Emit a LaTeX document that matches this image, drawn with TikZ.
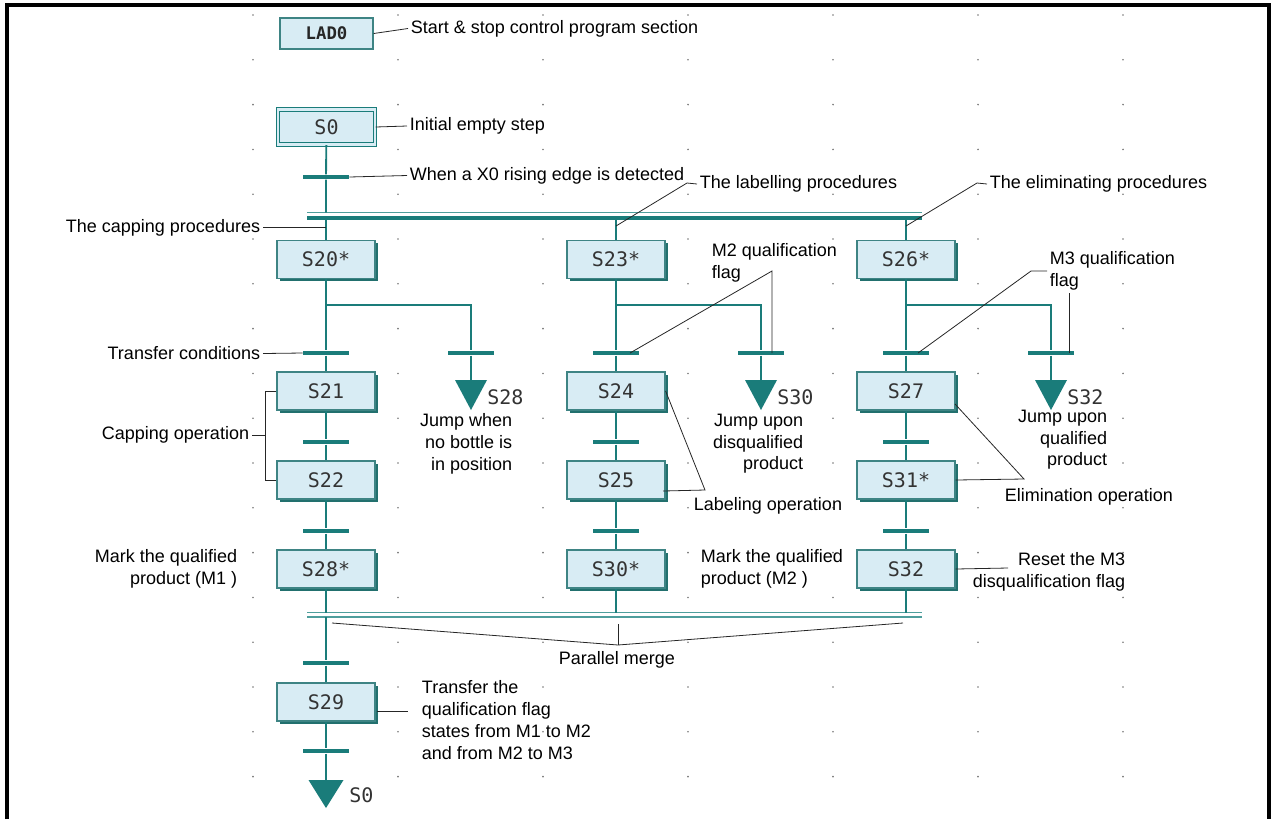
\documentclass[tikz,border=0pt]{standalone}
\usepackage{fontspec}
\setmainfont{Liberation Sans}
\newfontfamily\stepfont{DejaVu Sans Mono}
\usetikzlibrary{shadows}

\definecolor{sfcteal}{RGB}{26,124,122}
\definecolor{sfcfill}{RGB}{216,236,244}
\definecolor{sfcedge}{RGB}{62,132,132}
\definecolor{sfcshade}{RGB}{34,112,110}
\definecolor{sfcmerge}{RGB}{78,158,156}
\definecolor{dotgray}{RGB}{120,120,120}

\tikzset{
  stepbox/.style={draw=sfcedge, line width=0.9pt, fill=sfcfill, minimum width=73.5pt, minimum height=28.5pt, inner sep=0pt,
    font=\stepfont\fontsize{15}{15}\selectfont, text=black!80,
    drop shadow={shadow xshift=2.2pt, shadow yshift=-2.2pt, fill=sfcshade, opacity=1}},
  initbox/.style={draw=sfcteal, double=sfcfill, double distance=2pt, line width=0.8pt, fill=sfcfill,
    minimum width=72.75pt, minimum height=26.25pt, inner sep=0pt, font=\stepfont\fontsize{15}{15}\selectfont, text=black!80},
  headbox/.style={draw=sfcedge, line width=1pt, fill=sfcfill, minimum width=69.75pt, minimum height=23.25pt, inner sep=0pt,
    font=\stepfont\bfseries\fontsize{13}{13}\selectfont, text=black!85},
  trans/.style={fill=sfcteal, minimum width=34.5pt, minimum height=3.4pt, inner sep=0pt},
  link/.style={draw=sfcteal, line width=1.4pt},
  lead/.style={draw=black!85, line width=0.6pt},
  note/.style={font=\fontsize{13.5}{16.3}\selectfont, inner sep=2pt, text=black},
  jumplbl/.style={font=\stepfont\fontsize{15}{15}\selectfont, text=black!80, inner sep=0pt}
}

\begin{document}
\begin{tikzpicture}[x=0.75pt,y=0.75pt,yscale=-1,xscale=1]
\useasboundingbox (0,0) rectangle (1274,819);

%Frame
\draw[line width=2.3pt] (7,819) -- (7,5) -- (1269,5) -- (1269,819);

%Grid dots
\foreach \i in {0,...,6}
  \foreach \j in {0,...,18}
    \fill[dotgray] (253+145*\i,15+44.8*\j) circle (0.9);

%Steps
\node[headbox] (LAD0) at (326.5,33.5) {LAD0};
\node[initbox] (S0) at (326.5,127) {S0};

\node[stepbox] (S20) at (326,259.5) {S20*};
\node[stepbox] (S21) at (326,391) {S21};
\node[stepbox] (S22) at (326,480) {S22};
\node[stepbox] (S28) at (326,569) {S28*};
\node[stepbox] (S29) at (326,702) {S29};

\node[stepbox] (S23) at (616,259.5) {S23*};
\node[stepbox] (S24) at (616,391) {S24};
\node[stepbox] (S25) at (616,480) {S25};
\node[stepbox] (S30) at (616,569) {S30*};

\node[stepbox] (S26) at (906,259.5) {S26*};
\node[stepbox] (S27) at (906,391) {S27};
\node[stepbox] (S31) at (906,480) {S31*};
\node[stepbox] (S32) at (906,569) {S32};

%Transitions
\node[trans] (t0) at (326,177) {};
\node[trans] (t1) at (326,353) {};
\node[trans] (t2) at (326,442) {};
\node[trans] (t3) at (326,531) {};
\node[trans] (t4) at (326,663) {};
\node[trans] (t5) at (326,751) {};
\node[trans] (u1) at (616,353) {};
\node[trans] (u2) at (616,442) {};
\node[trans] (u3) at (616,531) {};
\node[trans] (v1) at (906,353) {};
\node[trans] (v2) at (906,442) {};
\node[trans] (v3) at (906,531) {};
\node[trans] (jb1) at (471,353) {};
\node[trans] (jb2) at (761,353) {};
\node[trans] (jb3) at (1051,353) {};

%Branch points
\coordinate (fork0) at (326,212.5);
\coordinate (fk1) at (326,217.5);
\coordinate (fk2) at (616,217.5);
\coordinate (fk3) at (906,217.5);
\coordinate (mg1) at (326,612.5);
\coordinate (mg2) at (616,612.5);
\coordinate (mg3) at (906,612.5);
\coordinate (mgout) at (326,617);
\coordinate (br1) at (326,305);
\coordinate (br2) at (616,305);
\coordinate (br3) at (906,305);
\coordinate (br1j) at (471,305);
\coordinate (br2j) at (761,305);
\coordinate (br3j) at (1051,305);
\coordinate (jt0) at (326,780);
\coordinate (jt1) at (471,380);
\coordinate (jt2) at (761,380);
\coordinate (jt3) at (1051,380);

%Parallel divergence and merge
\draw[draw=sfcmerge, line width=1.1pt] (307,212.5) -- (922,212.5);
\draw[draw=sfcteal, line width=3pt] (307,217.5) -- (922,217.5);
\draw[draw=sfcmerge, line width=1.1pt] (307,612.5) -- (922,612.5);
\draw[draw=sfcmerge, line width=1.1pt] (307,617) -- (922,617);

%Links
\draw[link] (S0) -- (t0) -- (fork0);
\draw[link] (fk1) -- (S20) -- (t1) -- (S21) -- (t2) -- (S22) -- (t3) -- (S28) -- (mg1);
\draw[link] (fk2) -- (S23) -- (u1) -- (S24) -- (u2) -- (S25) -- (u3) -- (S30) -- (mg2);
\draw[link] (fk3) -- (S26) -- (v1) -- (S27) -- (v2) -- (S31) -- (v3) -- (S32) -- (mg3);
\draw[link] (mgout) -- (t4) -- (S29) -- (t5) -- (jt0);
\draw[link] (br1) -- (br1j) -- (jb1) -- (jt1);
\draw[link] (br2) -- (br2j) -- (jb2) -- (jt2);
\draw[link] (br3) -- (br3j) -- (jb3) -- (jt3);

%Jumps
\fill[sfcteal] (jt0) ++(-17.5,0) -- ++(35,0) -- ++(-17.5,28) -- cycle;
\fill[sfcteal] (jt1) ++(-16,0) -- ++(32,0) -- ++(-16,30) -- cycle;
\fill[sfcteal] (jt2) ++(-16,0) -- ++(32,0) -- ++(-16,30) -- cycle;
\fill[sfcteal] (jt3) ++(-16,0) -- ++(32,0) -- ++(-16,30) -- cycle;
\node[jumplbl, anchor=west] (toS0) at (349,795) {S0};
\node[jumplbl, anchor=west] (toS28) at (487,397) {S28};
\node[jumplbl, anchor=west] (toS30) at (777,397) {S30};
\node[jumplbl, anchor=west] (toS32) at (1067,397) {S32};

% Text Node
\node[note, anchor=west] (nLad) at (408,28.5) {Start \& stop control program section};
\node[note, anchor=west] (nInit) at (407,126) {Initial empty step};
\node[note, anchor=west] (nEdge) at (407,175.5) {When a X0 rising edge is detected};
\node[note, anchor=east] (nCap) at (263,227.5) {The capping procedures};
\node[note, anchor=west] (nLab) at (697,184) {The labelling procedures};
\node[note, anchor=west] (nElim) at (987,184) {The eliminating procedures};
\node[note, anchor=north west, align=left] (nM2) at (709,241) {M2 qualification\\flag};
\node[note, anchor=north west, align=left] (nM3) at (1047,249) {M3 qualification\\flag};
\node[note, anchor=east] (nTrans) at (263,353.5) {Transfer conditions};
\node[note, anchor=east] (nCapOp) at (252,435) {Capping operation};
\node[note, anchor=north east, align=right] (nJ28) at (515,411) {Jump when\\no bottle is\\in position};
\node[note, anchor=north east, align=right] (nJ30) at (806,411) {Jump upon\\disqualified\\product};
\node[note, anchor=north east, align=right] (nJ32) at (1110,407) {Jump upon\\qualified\\product};
\node[note, anchor=west] (nLabOp) at (691,505.5) {Labeling operation};
\node[note, anchor=west] (nElimOp) at (1002,497) {Elimination operation};
\node[note, anchor=north east, align=right] (nMark1) at (240,547) {Mark the qualified\\product (M1 )};
\node[note, anchor=north west, align=left] (nMark2) at (698,547) {Mark the qualified\\product (M2 )};
\node[note, anchor=north east, align=right] (nReset) at (1128,550) {Reset the M3\\disqualification flag};
\node[note, anchor=north] (nPar) at (617,649) {Parallel merge};
\node[note, anchor=north west, align=left] (nXfer) at (419,678) {Transfer the\\qualification flag\\states from M1 to M2\\and from M2 to M3};

%Leader lines
\coordinate (capTap) at (326,227.5);
\coordinate (labTap) at (616,226);
\coordinate (labBend) at (687,183);
\coordinate (elimTap) at (906,226);
\coordinate (elimBend) at (977,183);
\coordinate (m2a) at (630,353);
\coordinate (m2b) at (772,271);
\coordinate (m2c) at (772,353);
\coordinate (m3a) at (918,353);
\coordinate (m3b) at (1031,271);
\coordinate (m3c) at (1047,271);
\coordinate (m3d) at (1069,293);
\coordinate (m3e) at (1069,353);
\coordinate (labMeet) at (705,490);
\coordinate (labS25) at (663,491);
\coordinate (elimMeet) at (1024,479);
\coordinate (elimS27) at (955,404);
\coordinate (resetEnd) at (1008,568);
\coordinate (parTip) at (618,645);
\coordinate (parMid) at (618,624);
\coordinate (parLeft) at (332,623);
\coordinate (parRight) at (903,623);
\coordinate (xferS29) at (377,711);
\coordinate (xferEnd) at (408,711);

\draw[lead] (LAD0.east) -- (nLad.west);
\draw[lead] (S0.east) -- (nInit.west);
\draw[lead] (t0.east) -- (nEdge.west);
\draw[lead] (nCap.east) -- (capTap);
\draw[lead] (labTap) -- (labBend) -- (nLab.west);
\draw[lead] (elimTap) -- (elimBend) -- (nElim.west);
\draw[lead] (m2a) -- (m2b) -- (m2c);
\draw[lead] (m3a) -- (m3b) -- (m3c);
\draw[lead] (m3d) -- (m3e);
\draw[lead] (nTrans.east) -- (t1.west);
\draw[lead] (nCapOp.east) -- ++(13,0);
\draw[lead] (S21.west) -- ++(-11,0) |- (S22.west);
\draw[lead] (S24.east) -- (labMeet) -- (labS25);
\draw[lead] (elimS27) -- (elimMeet) -- (S31.east);
\draw[lead] (S32.east) -- (resetEnd);
\draw[lead] (parTip) -- (parMid);
\draw[lead] (parLeft) -- (parTip) -- (parRight);
\draw[lead] (xferS29) -- (xferEnd);

\end{tikzpicture}
\end{document}
